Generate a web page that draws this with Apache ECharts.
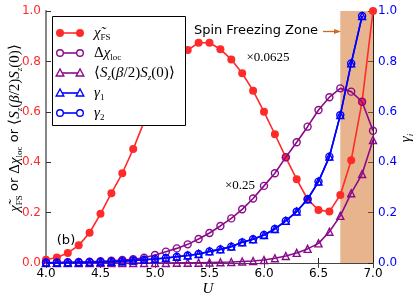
<!DOCTYPE html>
<html><head><meta charset="utf-8">
<script src="https://cdn.jsdelivr.net/npm/echarts@6/dist/echarts.min.js"></script>
<style>html,body{margin:0;padding:0;background:#fff}#c{width:416px;height:301px}</style>
</head><body><div id="c"></div>
<script>
const U = [4.0,4.1,4.2,4.3,4.4,4.5,4.6,4.7,4.8,4.9,5.0,5.1,5.2,5.3,5.4,5.5,5.6,5.7,5.8,5.9,6.0,6.1,6.2,6.3,6.4,6.5,6.6,6.7,6.8,6.9,7.0];
const chiFS = [0.013,0.022,0.04,0.07,0.12,0.195,0.277,0.356,0.452,0.56,0.66,0.74,0.80,0.845,0.874,0.874,0.848,0.808,0.753,0.684,0.600,0.511,0.419,0.332,0.253,0.210,0.204,0.270,0.408,0.64,1.0];
const dChiLoc = [0.002,0.002,0.003,0.004,0.005,0.007,0.009,0.012,0.015,0.021,0.032,0.045,0.058,0.074,0.095,0.119,0.147,0.177,0.213,0.256,0.306,0.356,0.42,0.479,0.541,0.607,0.658,0.693,0.680,0.640,0.525];
const szsz = [0,0,0,0,0,0,0,0,0,0,0,0,0.001,0.001,0.001,0.002,0.003,0.004,0.006,0.008,0.012,0.019,0.028,0.04,0.056,0.078,0.124,0.187,0.277,0.353,0.488];
const gamma1 = [0.001,0.001,0.002,0.002,0.003,0.004,0.005,0.007,0.01,0.013,0.016,0.02,0.025,0.03,0.036,0.046,0.054,0.065,0.082,0.094,0.111,0.135,0.167,0.204,0.253,0.323,0.422,0.587,0.792,0.98,null];
const gamma2 = [0.001,0.001,0.002,0.002,0.003,0.004,0.005,0.007,0.01,0.013,0.016,0.02,0.025,0.03,0.036,0.046,0.054,0.065,0.082,0.094,0.111,0.135,0.167,0.204,0.253,0.323,0.422,0.587,0.792,0.98,null];
const zone = [6.7, 7.0];
const xTicks = {min: 4.0, max: 7.0, interval: 0.5};
const yTicks = {min: 0, max: 1.0, interval: 0.2};

const RED = '#ff2a2a', PURPLE = '#8b0a8b', BLUE = '#0000ff';
const pairs = arr => U.map((u, i) => [u, arr[i]]);
const SERIF = 'Liberation Serif';
const SANS = 'DejaVu Sans';

const chart = echarts.init(document.getElementById('c'), null, {renderer: 'canvas'});
const rich = {
  it: {fontFamily: SERIF, fontStyle: 'italic', fontSize: 15, color: '#000'},
  rm: {fontFamily: SERIF, fontSize: 15, color: '#000'},
  sub: {fontFamily: SERIF, fontSize: 9, color: '#000', verticalAlign: 'bottom', padding: [0, 0, -2, 0]},
  subi: {fontFamily: SERIF, fontStyle: 'italic', fontSize: 9, color: '#000', verticalAlign: 'bottom', padding: [0, 0, -2, 0]},
  sans: {fontFamily: SANS, fontSize: 13, color: '#000'}
};

function openSeries(name, data, color, symbol, z) {
  return {
    name, type: 'line', data: pairs(data), yAxisIndex: 0,
    symbol, symbolSize: 7, z,
    lineStyle: {color, width: 1.6},
    itemStyle: {color: 'rgba(0,0,0,0)', borderColor: color, borderWidth: 1.4},
    emphasis: {disabled: true}, clip: true, animation: false
  };
}

const option = {
  animation: false,
  grid: {left: 46, right: 43, top: 11, bottom: 38, containLabel: false, outerBoundsMode: 'none'},
  xAxis: [{
    type: 'value', min: xTicks.min, max: xTicks.max, interval: xTicks.interval,
    axisLine: {lineStyle: {color: '#222', width: 1}},
    axisTick: {inside: true, length: 5, lineStyle: {color: '#222'}},
    axisLabel: {formatter: v => v.toFixed(1), fontFamily: SANS, fontSize: 12, color: '#000', margin: 5},
    splitLine: {show: false}
  }, {
    type: 'value', position: 'top', min: xTicks.min, max: xTicks.max, interval: xTicks.interval,
    axisLine: {lineStyle: {color: '#444', width: 1}},
    axisTick: {inside: true, length: 5, lineStyle: {color: '#444'}},
    axisLabel: {show: false}, splitLine: {show: false}
  }],
  yAxis: [{
    type: 'value', min: yTicks.min, max: yTicks.max, interval: yTicks.interval, position: 'left',
    axisLine: {show: true, lineStyle: {color: '#888', width: 2}},
    axisTick: {inside: true, length: 5, lineStyle: {color: '#333'}},
    axisLabel: {formatter: v => v.toFixed(1), fontFamily: SANS, fontSize: 12, color: RED, margin: 5},
    splitLine: {show: false}
  }, {
    type: 'value', min: yTicks.min, max: yTicks.max, interval: yTicks.interval, position: 'right',
    axisLine: {show: true, lineStyle: {color: '#222', width: 1}},
    axisTick: {inside: true, length: 5, lineStyle: {color: '#222'}},
    axisLabel: {formatter: v => v.toFixed(1), fontFamily: SANS, fontSize: 12, color: BLUE, margin: 5},
    splitLine: {show: false}
  }],
  series: [
    {
      name: 'zone', type: 'line', data: [], z: 0, silent: true,
      markArea: {silent: true, itemStyle: {color: 'rgba(210,105,30,0.5)'},
        data: [[{xAxis: zone[0], yAxis: yTicks.min}, {xAxis: zone[1], yAxis: yTicks.max}]]}
    },
    {
      name: 'chiFS', type: 'line', data: pairs(chiFS), symbol: 'circle', symbolSize: 8, z: 2,
      lineStyle: {color: RED, width: 1.6}, itemStyle: {color: RED},
      emphasis: {disabled: true}, clip: true
    },
    openSeries('dchi', dChiLoc, PURPLE, 'circle', 3),
    openSeries('szsz', szsz, PURPLE, 'triangle', 4),
    openSeries('g1', gamma1, BLUE, 'triangle', 5),
    openSeries('g2', gamma2, BLUE, 'circle', 6)
  ],
  graphic: []
};

const g = [];
// axis titles
g.push({type: 'text', x: 15, y: 128, rotation: Math.PI / 2,
  style: {text: '{it|χ̃}{sub|FS}{sans| or }{rm|Δ}{it|χ}{sub|loc}{sans| or }{rm|⟨}{it|S}{subi|z}{rm|(}{it|β}{rm|/2)}{it|S}{subi|z}{rm|(0)⟩}',
    rich, align: 'center', verticalAlign: 'middle'}, z: 50});
g.push({type: 'text', x: 406, y: 138, rotation: Math.PI / 2,
  style: {text: '{it|γ}{subi|i}', rich, align: 'center', verticalAlign: 'middle'}, z: 50});
g.push({type: 'text', x: 208, y: 289,
  style: {text: 'U', fontFamily: SERIF, fontStyle: 'italic', fontSize: 15, fill: '#000', align: 'center', verticalAlign: 'middle'}, z: 50});

// legend (drawn as graphic box)
const legX = 52, legY = 16, legW = 133, legH = 109;
const rows = [
  {color: RED, sym: 'circle', fill: RED, label: '{it|χ̃}{sub|FS}'},
  {color: PURPLE, sym: 'circle', fill: null, label: '{rm|Δ}{it|χ}{sub|loc}'},
  {color: PURPLE, sym: 'triangle', fill: null, label: '{rm|⟨}{it|S}{subi|z}{rm|(}{it|β}{rm|/2)}{it|S}{subi|z}{rm|(0)⟩}'},
  {color: BLUE, sym: 'triangle', fill: null, label: '{it|γ}{sub|1}'},
  {color: BLUE, sym: 'circle', fill: null, label: '{it|γ}{sub|2}'}
];
g.push({type: 'rect', shape: {x: legX + 0.5, y: legY + 0.5, width: legW, height: legH},
  style: {fill: '#fff', stroke: '#000', lineWidth: 1}, z: 100});
rows.forEach((r, i) => {
  const y = 33 + i * 20;
  g.push({type: 'line', shape: {x1: 60, y1: y, x2: 80, y2: y}, style: {stroke: r.color, lineWidth: 1.6}, z: 101});
  [60, 80].forEach(x => {
    if (r.sym === 'circle') {
      g.push({type: 'circle', shape: {cx: x, cy: y, r: r.fill ? 4 : 3.3},
        style: {fill: r.fill || '#fff', stroke: r.color, lineWidth: r.fill ? 0 : 1.4}, z: 102});
    } else {
      g.push({type: 'polygon', shape: {points: [[x, y - 4], [x - 3.8, y + 3], [x + 3.8, y + 3]]},
        style: {fill: '#fff', stroke: r.color, lineWidth: 1.4}, z: 102});
    }
  });
  g.push({type: 'text', x: 94, y: y, style: {text: r.label, rich, verticalAlign: 'middle', align: 'left'}, z: 102});
});
// annotations
g.push({type: 'text', x: 268, y: 58, style: {text: '×0.0625', fontFamily: SERIF, fontSize: 13, fill: '#000', align: 'center', verticalAlign: 'middle'}, z: 50});
g.push({type: 'text', x: 240, y: 186, style: {text: '×0.25', fontFamily: SERIF, fontSize: 13, fill: '#000', align: 'center', verticalAlign: 'middle'}, z: 50});
g.push({type: 'text', x: 66, y: 241, style: {text: '(b)', fontFamily: SANS, fontSize: 13, fill: '#000', align: 'center', verticalAlign: 'middle'}, z: 50});
g.push({type: 'text', x: 256, y: 31, style: {text: 'Spin Freezing Zone', fontFamily: SANS, fontSize: 13, fill: '#000', align: 'center', verticalAlign: 'middle'}, z: 50});
g.push({type: 'line', shape: {x1: 323, y1: 31.5, x2: 336, y2: 31.5}, style: {stroke: '#d2691e', lineWidth: 1.3}, z: 50});
g.push({type: 'polygon', shape: {points: [[341, 31.5], [334, 29], [334, 34]]}, style: {fill: '#d2691e'}, z: 50});
option.graphic = g;

chart.setOption(option);
</script>
</body></html>
